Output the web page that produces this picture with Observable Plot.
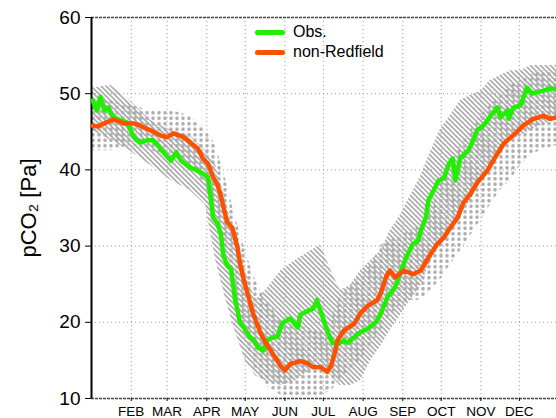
<!DOCTYPE html>
<html><head><meta charset="utf-8">
<script src="https://cdn.jsdelivr.net/npm/d3@7"></script>
<script src="https://cdn.jsdelivr.net/npm/@observablehq/plot@0.6"></script>
<style>
body{margin:0;background:#fff}
#chart{position:relative;width:556px;height:418px;overflow:hidden}
#chart svg{font-family:"Liberation Sans",Arial,sans-serif;background:#fff}
g[aria-label="x-axis tick label"] text{font-family:"Liberation Sans Narrow","Liberation Sans",Arial,sans-serif}
g[aria-label="y-axis label"] text{font-size:22px}
.legend{position:absolute;left:255px;top:22px;font:16px "Liberation Sans",Arial,sans-serif;color:#000}
.legend .row{display:flex;align-items:center;height:20px}
.legend .sw{width:30px;height:5px;border-radius:2.5px;margin-right:8px}
</style></head><body>
<div id="chart"></div>
<script>
// x-axis: day of year
const monthTicks = [31,59,90,120,151,181,212,243,273,304,334];
const monthLabels = ["FEB","MAR","APR","MAY","JUN","JUL","AUG","SEP","OCT","NOV","DEC"];
const yTicks = [10,20,30,40,50,60];

// Obs. series
const obsDay = [1,4,7,10,13,17,23,28,33,38,44,48,52,55,62,66,70,77,83,87,91,93,95,98,101,103,106,109,112,116,119,123,127,130,134,137,141,145,149,155,161,163,169,173,176,180,184,188,193,197,200,204,210,216,222,226,231,237,241,244,247,251,255,257,261,263,267,271,275,279,282,284,288,294,297,301,306,313,317,319,325,326,329,335,340,344,348,353,358,363];
const obsVal = [49.1,47.8,49.6,47.8,48.2,46.9,46.5,46.2,44.3,43.6,43.9,43.9,43.2,42.5,41.2,42.3,41.2,40.3,39.9,39.5,39.0,36.4,33.7,33.1,31.6,28.7,27.4,27.0,23.1,19.9,19.3,18.2,17.6,16.7,16.3,17.6,18.0,18.1,19.9,20.5,19.3,21.0,21.5,21.8,22.9,20.9,18.9,17.3,17.2,17.6,17.3,17.9,18.7,19.2,20.0,21.2,23.3,24.6,26.4,27.8,29.0,30.3,30.7,32.0,33.7,36.0,37.3,38.6,38.9,40.8,41.5,38.6,41.6,42.5,43.5,45.2,45.8,47.4,48.2,46.9,47.8,46.7,48.1,48.5,50.8,50.0,50.2,50.4,50.7,50.6];

// non-Redfield series
const modDay = [1,5,11,17,21,25,33,38,46,54,59,64,72,77,83,87,91,95,98,101,103,106,110,114,116,119,123,126,132,136,140,144,148,151,155,163,169,173,179,184,187,190,192,197,205,210,216,219,223,226,230,233,237,244,251,257,263,270,275,280,286,290,296,301,309,315,322,329,337,345,353,358,363];
const modVal = [45.8,45.7,46.2,46.6,46.4,46.1,46.1,45.8,45.2,44.5,44.3,44.8,44.3,43.6,42.8,41.5,40.8,39.0,38.2,36.6,35.1,33.1,32.4,29.8,27.7,25.5,23.1,21.2,18.6,17.3,16.3,15.2,14.2,13.7,14.5,14.9,14.6,14.1,14.1,13.5,14.3,16.0,17.6,18.9,19.8,21.2,22.2,22.5,22.9,23.9,26.0,26.8,25.9,26.8,26.3,26.8,28.5,30.3,31.1,32.4,33.8,35.6,36.9,38.3,39.9,41.6,43.5,44.5,45.8,46.7,47.1,46.7,46.9];

// spread bands
const bandDay = [0,15,30,46,62,77,89,97,105,112,120,128,136,148,159,171,179,187,194,202,210,218,226,233,241,249,257,265,272,280,288,296,304,311,319,327,335,343,350,363];
const obsHi = [50.7,51.1,49.1,46.5,45.2,44.5,42.5,40.6,36.0,30.8,26.8,22.9,24.2,26.8,28.1,29.4,30.1,26.8,24.2,24.8,26.8,28.1,29.4,32.0,34.0,36.6,39.2,42.5,45.2,47.1,49.1,49.8,50.4,51.7,52.4,53.0,53.0,53.7,53.7,53.7];
const obsLo = [45.2,43.9,42.5,40.6,38.6,37.3,35.4,28.1,22.9,18.9,15.0,13.0,12.3,11.7,12.3,13.7,14.3,13.0,11.7,11.7,12.3,15.0,16.9,18.9,20.9,22.9,24.8,28.1,30.1,32.0,34.0,36.0,38.6,40.6,42.5,43.9,44.5,45.2,45.8,46.5];
const modHi = [49.1,49.1,48.5,47.8,47.8,47.1,45.2,43.2,38.6,34.0,29.4,25.5,22.9,20.2,19.6,19.2,18.9,20.2,23.5,24.8,26.1,27.5,30.1,30.7,31.4,32.0,32.7,34.7,38.0,40.6,43.2,45.2,47.1,48.5,49.8,51.1,51.7,52.4,53.0,53.0];
const modLo = [42.5,42.5,43.2,42.5,41.9,40.6,38.0,34.0,28.1,22.9,17.6,13.7,11.7,10.4,10.4,10.4,10.4,11.0,12.4,13.7,15.0,17.0,18.9,20.9,22.2,22.9,22.9,24.2,25.5,27.5,29.4,31.4,33.4,35.3,37.3,38.6,40.6,41.9,42.5,43.2];

const obs = obsDay.map((d,i)=>({day:d, v:obsVal[i]}));
const mod = modDay.map((d,i)=>({day:d, v:modVal[i]}));
const bands = bandDay.map((d,i)=>({day:d, oh:obsHi[i], ol:obsLo[i], mh:modHi[i], ml:modLo[i]}));
const labelByDay = new Map(monthTicks.map((d,i)=>[d, monthLabels[i]]));

const GREEN = "#1ef000", ORANGE = "#ff5000";

const svg = Plot.plot({
  width: 556, height: 418,
  marginLeft: 91, marginRight: 0, marginTop: 17, marginBottom: 20,
  x: {domain: [0, 363]},
  y: {domain: [10, 60]},
  marks: [
    Plot.gridX(monthTicks, {stroke: "#999", strokeOpacity: 1, strokeDasharray: "1,3"}),
    Plot.gridY([20,30,40,50], {stroke: "#999", strokeOpacity: 1, strokeDasharray: "1,3"}),
    Plot.areaY(bands, {x: "day", y1: "ml", y2: "mh", fill: "url(#dots)"}),
    Plot.areaY(bands, {x: "day", y1: "ol", y2: "oh", fill: "url(#hatch)"}),
    Plot.ruleY([60], {stroke: "#444", strokeWidth: 1.5, strokeDasharray: "3,1"}),
    Plot.ruleY([10], {stroke: "#444", strokeWidth: 1.5, strokeDasharray: "3,1"}),
    Plot.ruleX([0], {stroke: "#000", strokeWidth: 2}),
    Plot.axisX({ticks: monthTicks, tickFormat: d => labelByDay.get(d), tickSize: 3, tickPadding: 5, fontSize: 13.5, label: null}),
    Plot.axisY({ticks: yTicks, tickSize: 6, tickPadding: 5, fontSize: 19, label: "pCO₂ [Pa]", labelAnchor: "center", labelArrow: "none", labelOffset: 71}),
    Plot.line(obs, {x: "day", y: "v", stroke: GREEN, strokeWidth: 4.5, strokeLinejoin: "round", strokeLinecap: "round", clip: true}),
    Plot.line(mod, {x: "day", y: "v", stroke: ORANGE, strokeWidth: 4.5, strokeLinejoin: "round", strokeLinecap: "round", clip: true})
  ]
});

const ns = "http://www.w3.org/2000/svg";
const defs = document.createElementNS(ns, "defs");
defs.innerHTML = '<pattern id="hatch" patternUnits="userSpaceOnUse" width="5" height="5"><path d="M-1,-1L6,6M4,-1L6,1M-1,4L1,6" stroke="#adadad" stroke-width="1.7"/></pattern>' +
  '<pattern id="dots" patternUnits="userSpaceOnUse" width="6" height="5.5"><circle cx="3" cy="2.75" r="1.8" fill="#adadad"/></pattern>';
svg.insertBefore(defs, svg.firstChild);

const chart = document.getElementById("chart");
chart.appendChild(svg);

const legend = document.createElement("div");
legend.className = "legend";
[["Obs.", GREEN], ["non-Redfield", ORANGE]].forEach(([t, c]) => {
  const row = document.createElement("div"); row.className = "row";
  const sw = document.createElement("span"); sw.className = "sw"; sw.style.background = c;
  const tx = document.createElement("span"); tx.textContent = t;
  row.appendChild(sw); row.appendChild(tx); legend.appendChild(row);
});
chart.appendChild(legend);
</script>
</body></html>
